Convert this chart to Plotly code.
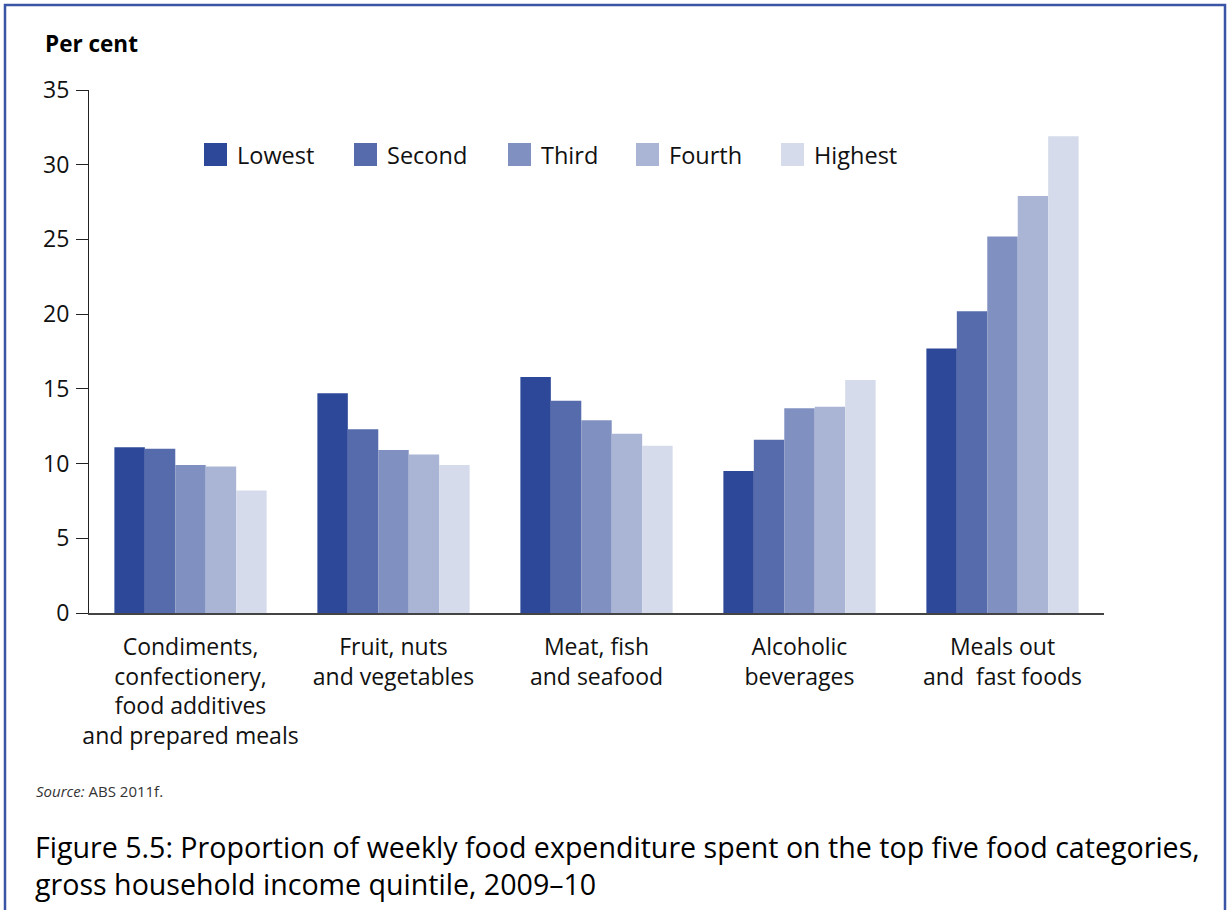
import plotly.graph_objects as go

categories = [
    "Condiments,<br>confectionery,<br>food additives<br>and prepared meals",
    "Fruit, nuts<br>and vegetables",
    "Meat, fish<br>and seafood",
    "Alcoholic<br>beverages",
    "Meals out<br>and  fast foods",
]
series_names = ["Lowest", "Second", "Third", "Fourth", "Highest"]
lowest = [11.1, 14.7, 15.8, 9.5, 17.7]
second = [11.0, 12.3, 14.2, 11.6, 20.2]
third = [9.9, 10.9, 12.9, 13.7, 25.2]
fourth = [9.8, 10.6, 12.0, 13.8, 27.9]
highest = [8.2, 9.9, 11.2, 15.6, 31.9]
series_values = [lowest, second, third, fourth, highest]
colors = ["#2D4898", "#566BAC", "#8091C1", "#AAB5D6", "#D5DBEB"]
y_ticks = [0, 5, 10, 15, 20, 25, 30, 35]
caption = ("Figure 5.5: Proportion of weekly food expenditure spent on the top five food categories,"
           "<br>gross household income quintile, 2009\u201310")

W, H = 1227, 910
L, R, T, B = 89, 1104, 90, 613
FONT = "Open Sans"

fig = go.Figure()
for name, vals, col in zip(series_names, series_values, colors):
    fig.add_trace(go.Bar(x=categories, y=vals, name=name,
                         marker=dict(color=col, line=dict(width=0)),
                         showlegend=False))

def px_x(p):
    return (p - L) / (R - L)

def px_y(p):
    return (B - p) / (B - T)

# manual legend (large squares like the original)
legend_sq_x = [204, 354, 508, 636, 781]
for name, col, sx in zip(series_names, colors, legend_sq_x):
    fig.add_shape(type="rect", xref="paper", yref="paper",
                  x0=px_x(sx), x1=px_x(sx + 23), y0=px_y(143), y1=px_y(166),
                  fillcolor=col, line=dict(width=0))
    fig.add_annotation(xref="paper", yref="paper", x=px_x(sx + 31), y=px_y(155),
                       text=name, showarrow=False, xanchor="left", yanchor="middle",
                       font=dict(family=FONT, size=23.5, color="#111"))

# border
fig.add_shape(type="rect", xref="paper", yref="paper",
              x0=px_x(5), x1=px_x(1225), y0=px_y(5), y1=px_y(930),
              line=dict(color="#3A55A6", width=2.5), fillcolor="rgba(0,0,0,0)")

fig.add_annotation(xref="paper", yref="paper", x=px_x(43), y=px_y(44),
                   text="<b>Per cent</b>", showarrow=False, xanchor="left", yanchor="middle",
                   font=dict(family=FONT, size=22.5, color="#000"))
fig.add_annotation(xref="paper", yref="paper", x=px_x(34), y=px_y(791),
                   text="<i>Source:</i> ABS 2011f.", showarrow=False, xanchor="left", yanchor="middle",
                   font=dict(family=FONT, size=15, color="#333"))
fig.add_annotation(xref="paper", yref="paper", x=px_x(33), y=px_y(865),
                   text=caption, showarrow=False, xanchor="left", yanchor="middle", align="left",
                   font=dict(family=FONT, size=28.6, color="#000"))

fig.update_layout(
    width=W, height=H,
    margin=dict(l=L, r=W - R, t=T, b=H - B, pad=0),
    paper_bgcolor="white", plot_bgcolor="white",
    barmode="group", bargap=0.25, bargroupgap=0,
    font=dict(family=FONT, color="#111"),
)
fig.update_xaxes(range=[-0.5, 4.5], showline=True, linecolor="#444", linewidth=2,
                 ticks="", showgrid=False, tickfont=dict(size=23, color="#111"),
                 ticklabelstandoff=12, zeroline=False)
fig.update_yaxes(range=[0, 35], tickvals=y_ticks, showline=True, linecolor="#222", linewidth=1,
                 ticks="outside", ticklen=12, tickcolor="#222", tickwidth=1,
                 showgrid=False, zeroline=False, tickfont=dict(size=23, color="#111"),
                 ticklabelstandoff=2)

fig.write_html("out.html", config={"displayModeBar": False},
               post_script="document.body.style.margin='0';")
